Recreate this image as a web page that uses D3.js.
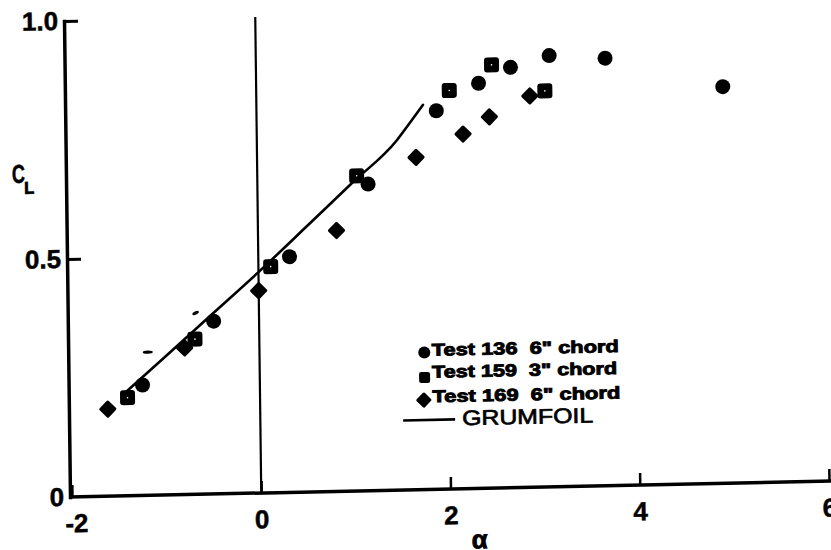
<!DOCTYPE html>
<html>
<head>
<meta charset="utf-8">
<script src="https://cdn.jsdelivr.net/npm/d3@7"></script>
<style>
  body { margin: 0; background: #fff; }
  svg { display: block; }
  text { font-family: "Liberation Sans", Arial, Helvetica, sans-serif; fill: #000; }
</style>
</head>
<body>
<svg id="chart" width="831" height="550"></svg>
<script>
// Axis ticks
const alphaTicks = [-2, 0, 2, 4, 6];
const clTicks = [0, 0.5, 1.0];

// Test 136, 6" chord (circles)
const test136Alpha = [-1.24, -0.48, 0.33, 1.17, 1.90, 2.35, 2.69, 3.10, 3.69, 4.93];
const test136CL    = [0.232, 0.363, 0.495, 0.644, 0.795, 0.851, 0.883, 0.906, 0.898, 0.833];

// Test 159, 3" chord (squares)
const test159Alpha = [-1.40, -0.68, 0.13, 1.05, 2.04, 2.49, 3.05];
const test159CL    = [0.206, 0.326, 0.475, 0.662, 0.837, 0.889, 0.832];

// Test 169, 6" chord (diamonds)
const test169Alpha = [-1.61, -0.79, 0.00, 0.83, 1.68, 2.18, 2.46, 2.89];
const test169CL    = [0.183, 0.308, 0.425, 0.548, 0.698, 0.745, 0.780, 0.822];

// GRUMFOIL prediction
const grumfoilAlpha = [-1.44, -1.0, -0.5, 0, 0.5, 1.0, 1.48, 1.62, 1.76];
const grumfoilCL    = [0.214, 0.290, 0.377, 0.464, 0.555, 0.647, 0.735, 0.771, 0.808];

// Two short unlabeled dashes near the low-alpha points
const dashAlpha = [-1.18, -0.67];
const dashCL    = [0.301, 0.381];

const legendLabels = ['Test 136  6" chord', 'Test 159  3" chord', 'Test 169  6" chord', 'GRUMFOIL'];

const zip = (a, b) => a.map((v, i) => [v, b[i]]);

const svg = d3.select("#chart");

// The printed sheet is slightly skewed on the page
const g = svg.append("g")
  .attr("transform", "matrix(1,-0.021,0.0126,1,-6.26,1.47)");

const x = d3.scaleLinear().domain([-2, 6]).range([72, 829]);
const y = d3.scaleLinear().domain([0, 1]).range([497, 21]);
const axisX0 = 70;

// ---- x axis ----
const xAxis = g.append("g")
  .attr("transform", `translate(0,${y(0)})`)
  .call(d3.axisBottom(x).tickValues(alphaTicks).tickSize(-12).tickSizeOuter(0)
        .tickPadding(17).tickFormat(d => String(d)));
xAxis.select(".domain").remove();
xAxis.selectAll(".tick line").attr("stroke", "#000").attr("stroke-width", 2.5);
xAxis.selectAll(".tick text")
  .attr("font-size", 26).attr("font-weight", "bold")
  .attr("stroke", "#000").attr("stroke-width", 0.5)
  .style("font-family", '"Liberation Sans", Arial, sans-serif');
xAxis.selectAll(".tick").filter(d => d === -2).select("text").attr("dx", 4);

g.append("line")
  .attr("x1", axisX0 - 1).attr("x2", 833)
  .attr("y1", y(0)).attr("y2", y(0))
  .attr("stroke", "#000").attr("stroke-width", 3.5);

// ---- y axis ----
const yAxis = g.append("g")
  .attr("transform", `translate(${axisX0},0)`)
  .call(d3.axisLeft(y).tickValues(clTicks).tickSize(-14).tickSizeOuter(0)
        .tickPadding(6).tickFormat(d => d === 0 ? "0" : d.toFixed(1)));
yAxis.select(".domain").attr("stroke", "#000").attr("stroke-width", 3.5)
  .attr("stroke-linecap", "square");
yAxis.selectAll(".tick line").attr("stroke", "#000").attr("stroke-width", 3);
yAxis.selectAll(".tick").filter(d => d === 0).select("line").remove();
yAxis.selectAll(".tick text")
  .attr("font-size", 26).attr("font-weight", "bold")
  .attr("stroke", "#000").attr("stroke-width", 0.5)
  .style("font-family", '"Liberation Sans", Arial, sans-serif');

// vertical reference line at alpha = 0
g.append("line")
  .attr("x1", x(0)).attr("x2", x(0))
  .attr("y1", y(1)).attr("y2", y(0))
  .attr("stroke", "#000").attr("stroke-width", 2.2);

// axis titles
const clTitle = g.append("g");
clTitle.append("text").attr("x", 16).attr("y", 182)
  .attr("font-size", 26).attr("font-weight", "bold")
  .attr("stroke", "#000").attr("stroke-width", 0.6)
  .attr("textLength", 13).attr("lengthAdjust", "spacingAndGlyphs").text("C");
clTitle.append("text").attr("x", 28).attr("y", 193)
  .attr("font-size", 17).attr("font-weight", "bold")
  .attr("stroke", "#000").attr("stroke-width", 0.8)
  .attr("textLength", 10).attr("lengthAdjust", "spacingAndGlyphs").text("L");

g.append("text").attr("x", 479).attr("y", 557)
  .attr("text-anchor", "middle")
  .attr("font-size", 26).attr("font-weight", "bold")
  .attr("stroke", "#000").attr("stroke-width", 0.8)
  .text("α");

// ---- GRUMFOIL curve ----
const line = d3.line().x(d => x(d[0])).y(d => y(d[1])).curve(d3.curveMonotoneX);
g.append("path")
  .datum(zip(grumfoilAlpha, grumfoilCL))
  .attr("d", line)
  .attr("fill", "none").attr("stroke", "#000").attr("stroke-width", 2.6)
  .attr("stroke-linecap", "round");

// ---- markers ----
function drawCircle(sel, r) {
  sel.append("circle").attr("r", r).attr("fill", "#000");
}
function drawSquare(sel, s, dot) {
  sel.append("rect").attr("x", -s / 2).attr("y", -s / 2)
    .attr("width", s).attr("height", s).attr("rx", s * 0.2).attr("fill", "#000");
  if (dot) sel.append("circle").attr("r", 0.8).attr("fill", "#fff");
}
function drawDiamond(sel, s) {
  sel.append("rect").attr("x", -s / 2).attr("y", -s / 2)
    .attr("width", s).attr("height", s).attr("rx", s * 0.12)
    .attr("transform", "rotate(45)").attr("fill", "#000");
}

g.append("g").selectAll("g")
  .data(zip(test169Alpha, test169CL)).join("g")
  .attr("transform", d => `translate(${x(d[0])},${y(d[1])})`)
  .call(sel => drawDiamond(sel, 13));

g.append("g").selectAll("g")
  .data(zip(test136Alpha, test136CL)).join("g")
  .attr("transform", d => `translate(${x(d[0])},${y(d[1])})`)
  .call(sel => drawCircle(sel, 7.5));

g.append("g").selectAll("g")
  .data(zip(test159Alpha, test159CL)).join("g")
  .attr("transform", d => `translate(${x(d[0])},${y(d[1])})`)
  .call(sel => drawSquare(sel, 15, true));

g.append("g").selectAll("ellipse")
  .data(zip(dashAlpha, dashCL)).join("ellipse")
  .attr("cx", d => x(d[0])).attr("cy", d => y(d[1]))
  .attr("rx", (d, i) => i === 0 ? 5 : 3.5).attr("ry", 1.6)
  .attr("transform", (d, i) => i === 0 ? null : `rotate(-25,${x(d[0])},${y(d[1])})`)
  .attr("fill", "#000");

// ---- legend ----
const legend = g.append("g");
const rowBase = [363.5, 385.5, 410];
const rowMarkY = [360, 385, 407.5];
const rowLen = [187, 185, 188];
const drawers = [
  s => drawCircle(s, 6),
  s => drawSquare(s, 11, false),
  s => drawDiamond(s, 11.5)
];
for (let i = 0; i < 3; i++) {
  const m = legend.append("g").attr("transform", `translate(${i === 2 ? 425 : 426},${rowMarkY[i]})`);
  drawers[i](m);
  legend.append("text")
    .attr("x", 433.5).attr("y", rowBase[i])
    .attr("font-size", 17).attr("font-weight", "bold")
    .attr("stroke", "#000").attr("stroke-width", 0.9)
    .attr("textLength", rowLen[i]).attr("lengthAdjust", "spacingAndGlyphs")
    .style("white-space", "pre")
    .text(legendLabels[i]);
}
legend.append("line")
  .attr("x1", 404).attr("x2", 456).attr("y1", 427.5).attr("y2", 427.5)
  .attr("stroke", "#000").attr("stroke-width", 2.6);
legend.append("text")
  .attr("x", 463).attr("y", 433.5)
  .attr("font-size", 21)
  .attr("stroke", "#000").attr("stroke-width", 0.7)
  .attr("textLength", 131).attr("lengthAdjust", "spacingAndGlyphs")
  .text(legendLabels[3]);
</script>
</body>
</html>
